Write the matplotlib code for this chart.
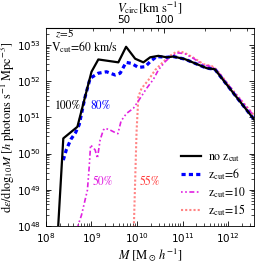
import numpy as np
import matplotlib
matplotlib.use("Agg")
import matplotlib.pyplot as plt
from matplotlib.ticker import FixedLocator, NullFormatter, LogLocator

plt.rcParams['mathtext.fontset'] = 'stix'
plt.rcParams['font.family'] = 'DejaVu Sans'
SERIF = 'STIXGeneral'

# data (log10 M, log10 emissivity)
black_logM = [8.25, 8.38, 8.69, 9.00, 9.15, 9.59, 9.76, 9.96, 10.14, 10.29, 10.47, 10.65, 10.80, 11.05, 11.53, 11.71, 12.15, 12.60]
black_loge = [47.6, 50.42, 50.74, 52.26, 52.60, 52.52, 52.95, 52.62, 52.52, 52.66, 52.70, 52.66, 52.68, 52.61, 52.36, 52.33, 51.62, 50.90]

blue_logM = [8.38, 8.45, 8.55, 8.65, 8.73, 8.86, 8.97, 9.15, 9.33, 9.52, 9.63, 9.76, 9.88, 10.03, 10.18, 10.29, 10.43, 10.65, 10.80, 11.05, 11.53, 11.71, 12.15, 12.60]
blue_loge = [49.82, 50.12, 50.40, 50.58, 50.80, 51.57, 52.08, 52.22, 52.26, 52.17, 52.22, 52.52, 52.49, 52.38, 52.40, 52.54, 52.68, 52.66, 52.68, 52.61, 52.36, 52.33, 51.62, 50.90]

mag_logM = [8.70, 8.78, 8.91, 8.95, 8.98, 9.08, 9.13, 9.19, 9.26, 9.30, 9.41, 9.52, 9.58, 9.65, 9.77, 9.92, 10.07, 10.21, 10.36, 10.47, 10.62, 10.76, 10.91, 11.05, 11.24, 11.46, 11.64, 11.75, 12.15, 12.60]
mag_loge = [48.0, 48.30, 48.99, 49.64, 50.24, 50.10, 49.87, 50.38, 50.65, 50.70, 50.65, 50.58, 50.55, 50.90, 51.11, 51.25, 51.53, 51.80, 52.05, 52.31, 52.54, 52.70, 52.78, 52.76, 52.63, 52.45, 52.40, 52.31, 51.67, 51.00]

red_logM = [9.92, 9.99, 10.03, 10.10, 10.25, 10.40, 10.55, 10.70, 10.85, 10.95, 11.05, 11.24, 11.46, 11.64, 11.75, 12.15, 12.60]
red_loge = [47.5, 50.6, 51.57, 51.80, 52.03, 52.31, 52.50, 52.68, 52.80, 52.82, 52.78, 52.65, 52.47, 52.42, 52.32, 51.68, 51.02]

labels = [r'no $\mathrm{z_{cut}}$', r'$\mathrm{z_{cut}}\!=\!6$', r'$\mathrm{z_{cut}}\!=\!10$', r'$\mathrm{z_{cut}}\!=\!15$']

fig = plt.figure(figsize=(2.69, 2.63), dpi=100)
ax = fig.add_axes([0.171, 0.1407, 0.773, 0.753])

def p(lm, le):
    return 10**np.array(lm), 10**np.array(le)

ax.plot(*p(red_logM, red_loge), color='#ff5050', ls=(0, (1, 1)), lw=1.5, alpha=0.7, label=labels[3], zorder=2)
ax.plot(*p(mag_logM, mag_loge), color='#e020e0', ls=(0, (1, 1.5, 1, 1.5, 3, 1.5)), lw=1.2, label=labels[2], zorder=3)
ax.plot(*p(blue_logM, blue_loge), color='#0000ff', ls=(0, (1.3, 1.0)), lw=2.3, label=labels[1], zorder=4)
ax.plot(*p(black_logM, black_loge), color='black', ls='-', lw=1.6, label=labels[0], zorder=5)

ax.set_xscale('log')
ax.set_yscale('log')
ax.set_xlim(1e8, 10**12.57)
ax.set_ylim(1e48, 10**53.47)

ax.tick_params(which='both', direction='in', labelsize=7.5, right=True, top=False)
ax.tick_params(which='major', length=3.5, width=0.6)
ax.tick_params(which='minor', length=2, width=0.5)
ax.xaxis.set_minor_locator(LogLocator(base=10, subs=np.arange(2, 10)))
ax.yaxis.set_minor_locator(LogLocator(base=10, subs=np.arange(2, 10)))
ax.xaxis.set_minor_formatter(NullFormatter())
ax.yaxis.set_minor_formatter(NullFormatter())
for s in ax.spines.values():
    s.set_linewidth(0.6)

ax.set_xlabel(r'$M\ [\mathrm{M_\odot}\,h^{-1}]$', fontsize=9, labelpad=1)
ax.set_ylabel(r'$\mathrm{d}\epsilon/\mathrm{dlog_{10}}M\ [h\ \mathrm{photons\ s^{-1}\ Mpc^{-3}}]$', fontsize=8.8, labelpad=0)

M50 = 5.0e9
def fwd(m):
    m = np.asarray(m, dtype=float)
    return 50.0 * np.cbrt(np.clip(m, 1e-30, None) / M50)
def inv(v):
    v = np.asarray(v, dtype=float)
    return M50 * (v / 50.0)**3

sec = ax.secondary_xaxis('top', functions=(fwd, inv))
sec.xaxis.set_major_locator(FixedLocator([50, 100]))
sec.xaxis.set_minor_locator(FixedLocator([20, 30, 40, 60, 70, 80, 90, 200, 300, 400]))
sec.xaxis.set_minor_formatter(NullFormatter())
sec.set_xticklabels(['50', '100'])
sec.tick_params(which='both', direction='in', labelsize=7.5, pad=2)
sec.tick_params(which='major', length=3.5, width=0.6)
sec.tick_params(which='minor', length=2, width=0.5)
sec.set_xlabel(r'$V_{\mathrm{circ}}[\mathrm{km\ s^{-1}}]$', fontsize=9, labelpad=2)

ax.text(0.045, 0.968, r'$z\!=\!5$', transform=ax.transAxes, fontsize=8, va='center', ha='left')
ax.text(0.025, 0.905, r'$\mathrm{V_{cut}}\!=\!60\ \mathrm{km/s}$', transform=ax.transAxes, fontsize=8.5, va='center', ha='left')

ax.text(10**8.47, 10**51.32, '100%', fontsize=8.5, family=SERIF, color='black', ha='center', va='center')
ax.text(10**9.2, 10**51.32, '80%', fontsize=8.5, family=SERIF, color='#0000ff', ha='center', va='center')
ax.text(10**9.26, 10**49.2, '50%', fontsize=8.5, family=SERIF, color='#e020e0', ha='center', va='center')
ax.text(10**10.29, 10**49.2, '55%', fontsize=8.5, family=SERIF, color='#ff4040', ha='center', va='center')

h, l = ax.get_legend_handles_labels()
order = [3, 2, 1, 0]
ax.legend([h[i] for i in order], [l[i] for i in order], loc='lower right', frameon=False,
          prop={'family': SERIF, 'size': 8.5}, handlelength=1.7, handletextpad=0.6, labelspacing=0.2,
          borderaxespad=0.3, bbox_to_anchor=(1.0, 0.0))

fig.savefig('out.png', dpi=100)
